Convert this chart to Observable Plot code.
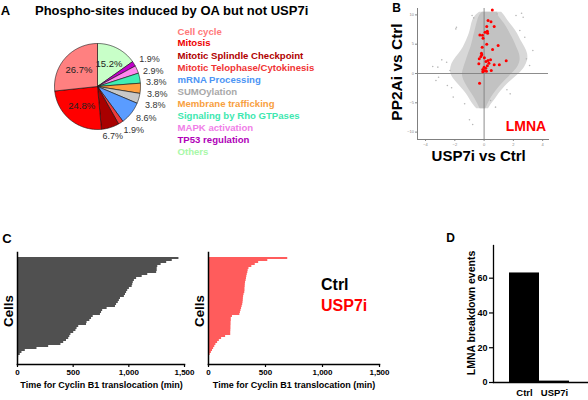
<!DOCTYPE html>
<html><head><meta charset="utf-8">
<script src="https://cdn.jsdelivr.net/npm/d3@7"></script>
<script src="https://cdn.jsdelivr.net/npm/@observablehq/plot@0.6"></script>
<style>
body{margin:0;background:#fff;}
#fig{position:relative;width:588px;height:400px;overflow:hidden;background:#fff;font-family:"Liberation Sans",Arial,Helvetica,sans-serif;}
#fig svg{position:absolute;overflow:visible;}
.t{position:absolute;font-weight:bold;white-space:nowrap;line-height:1;}
</style></head><body><div id="fig"></div>
<script>
// ---------- Panel A data ----------
const pieCategories = ["Cell cycle","Mitosis","Mitotic Splindle Checkpoint","Mitotic Telophase/Cytokinesis","mRNA Processing","SUMOylation","Membrane trafficking","Signaling by Rho GTPases","MAPK activation","TP53 regulation","Others"];
const piePercents = [26.7,24.8,6.7,1.9,8.6,3.8,3.8,3.8,2.9,1.9,15.2];
const pieColors = ["#ff8080","#ff0000","#a80000","#f03a3a","#5a9cff","#c8c8c8","#ffa040","#40eeb4","#ff88ee","#c000c8","#c8ffc8"];
const legendColors = ["#ff7878","#ee0000","#b00000","#f03434","#4c95f5","#a8a8a8","#f8a040","#3ee8b0","#f080e8","#b000b8","#a8f8a8"];

// ---------- Panel B data (USP7i vs Ctrl, PP2Ai vs Ctrl) ----------
const cloudY     = [10.45, 9.89, 9.03, 7.9, 6.76, 5.63, 4.49, 3.35, 2.22, 1.08, -0.06, -0.91, -1.76, -2.61, -3.47, -4.32, -5.17, -6.02];
const coreLeft   = [-0.11, -0.33, -0.44, -0.56, -0.67, -0.78, -0.89, -1.07, -1.22, -1.38, -1.51, -1.44, -1.27, -1.07, -0.84, -0.62, -0.44, -0.27];
const coreRight  = [0.93, 0.93, 1.22, 1.56, 1.78, 2.04, 2.22, 2.44, 2.49, 2.33, 1.89, 1.56, 1.22, 0.93, 0.67, 0.44, 0.27, 0.11];
const haloLeft   = [-0.3, -0.6, -0.8, -0.9, -1.0, -1.2, -1.4, -1.7, -2.1, -2.3, -2.3, -2.1, -1.8, -1.5, -1.2, -1.0, -0.8, -0.5];
const haloRight  = [1.2, 1.4, 1.6, 2.0, 2.3, 2.5, 2.8, 3.0, 3.0, 2.8, 2.4, 2.0, 1.6, 1.3, 1.0, 0.8, 0.5, 0.3];
const outlierX = [-1.89,-1.93,-0.82,-0.71,2.18,2.56,2.67,-2.89,-2.56,-3.16,-3.51,-3.29,-2.51,-2.22,-2.11,-1.33,-1.0,-0.78,3.33,3.11,2.89,1.78,1.56,0.78,0.44,-3.11,-2.33,2.78,2.44,0.89];
const outlierY = [7.90,7.61,9.89,9.49,9.89,10.28,9.60,2.33,1.93,1.08,1.19,-1.19,-2.05,-2.44,-4.03,-5.17,-7.9,-8.69,3.92,1.36,2.5,-3.47,-2.78,-5.74,-4.6,-0.63,0.51,6.19,7.33,10.17];
const lmnaX = [0.56,0.27,0.47,0.18,0.69,0.22,0.07,-0.29,-0.11,0.24,-0.07,0.18,0.96,-0.13,0.58,-0.18,-0.16,-0.22,-0.33,0.02,0.27,0.44,0.13,0.33,-0.36,1.51,1.04,0.69,0.22,0.0,0.11,-0.09,0.04,-0.09,0.16,0.49,-0.31];
const lmnaY = [10.85,9.03,8.81,8.01,8.01,7.22,7.05,6.59,6.53,6.88,6.02,5.0,4.77,4.49,4.09,3.47,3.18,2.9,2.5,2.67,2.22,2.33,2.05,1.76,1.65,2.16,1.48,1.48,1.31,1.08,0.91,0.68,0.45,0.28,0.4,0.51,-1.65];
const bXTicks = [-4,-2,0,2,4];
const bYTicks = [-10,-5,0,5,10];

// ---------- Panel C data (time for Cyclin B1 translocation, min) ----------
const ctrlTimes = [1450,1390,1340,1290,1260,1255,1255,1250,1170,1120,1070,1050,1040,1035,1030,1005,990,980,970,960,925,915,905,890,880,805,765,755,745,680,665,650,625,620,550,535,525,505,480,470,460,440,415,390,280,175,70,40,25,10];
const usp7iTimes = [695,520,440,410,380,355,348,345,340,336,333,330,325,323,322,320,320,318,312,308,306,305,303,300,295,290,285,280,275,210,200,200,198,198,197,197,196,195,195,150,115,95,80,65,55,45,35,25,15,8];
const cTicks = [0,500,1000,1500];

// ---------- Panel D data ----------
const dGroups = ["Ctrl","USP7i"];
const dEvents = [63,0.8];
const dTicks = [0,20,40,60];

const FONT = '"Liberation Sans", Arial, Helvetica, sans-serif';
const fig = document.getElementById("fig");
function place(svg, left, top){ svg.style.left = left+"px"; svg.style.top = top+"px"; fig.appendChild(svg); }
function txt(s, x, y, size, color, opts={}){
  const d = document.createElement("div");
  d.className = "t"; d.textContent = s;
  d.style.fontSize = size+"px"; d.style.color = color||"#000";
  d.style.left = x+"px"; d.style.top = y+"px";
  const ax = opts.anchor==="start" ? "0" : "-50%";
  d.style.transform = `translate(${ax},-50%)` + (opts.rot ? ` rotate(${opts.rot}deg)` : "");
  if (opts.weight) d.style.fontWeight = opts.weight;
  fig.appendChild(d);
}

// ---------- Pie (A) ----------
{
  const R = 43;
  const rows = pieCategories.map((c,i)=>({cat:c, pct:piePercents[i], color:pieColors[i]})).reverse();
  const arcs = d3.pie().sort(null).value(d=>d.pct).startAngle(0).endAngle(2*Math.PI)(rows);
  const pt = (a, r) => ({x: r*Math.sin(a), y: r*Math.cos(a)});
  const sliceMarks = arcs.map(a => {
    const pts = [{x:0,y:0}];
    const n = Math.max(2, Math.ceil((a.endAngle-a.startAngle)/0.02));
    for (let k=0;k<=n;k++) pts.push(pt(a.startAngle+(a.endAngle-a.startAngle)*k/n, R));
    pts.push({x:0,y:0});
    return Plot.line(pts, {x:"x", y:"y", fill:a.data.color, stroke:"#111", strokeWidth:0.6, strokeLinejoin:"round"});
  });
  // label layout: inside for big slices, outside (radial) otherwise, with minimal vertical spacing
  let prevY = Infinity;
  const labs = arcs.map(a => {
    const m = (a.startAngle+a.endAngle)/2;
    const inside = a.data.pct > 10;
    const p = pt(m, inside ? 0.58*R : 1.2*R);
    const kind = inside ? "in" : (Math.sin(m) > 0.5 ? "start" : "mid");
    if (kind === "start") { p.y = Math.min(p.y, prevY - 11.5); prevY = p.y; }
    return {...p, text: a.data.pct.toFixed(1)+"%", kind};
  });
  const svg = Plot.plot({
    width:176, height:140, margin:0,
    x:{domain:[-97,79], axis:null}, y:{domain:[-74,66], axis:null},
    style:{fontFamily:FONT, background:"transparent"},
    marks:[
      ...sliceMarks,
      Plot.text(labs.filter(d=>d.kind==="in"), {x:"x", y:"y", text:"text", fontSize:9.5, fill:"#222"}),
      Plot.text(labs.filter(d=>d.kind==="start"), {x:"x", y:"y", text:"text", fontSize:9, fill:"#333", textAnchor:"start", dx:-2}),
      Plot.text(labs.filter(d=>d.kind==="mid"), {x:"x", y:"y", text:"text", fontSize:9, fill:"#333"})
    ]
  });
  place(svg, 0, 20);
}

// ---------- Scatter (B) ----------
{
  const core = cloudY.map((y,i)=>({y, x1:coreLeft[i], x2:coreRight[i]}));
  const halo = cloudY.map((y,i)=>({y, x1:haloLeft[i], x2:haloRight[i]}));
  const outl = outlierX.map((x,i)=>({x, y:outlierY[i]}));
  const red = lmnaX.map((x,i)=>({x, y:lmnaY[i]}));
  const svg = Plot.plot({
    width:208, height:170, marginLeft:37, marginRight:40, marginTop:8, marginBottom:31,
    x:{domain:[-4.55,4.4]}, y:{domain:[-11.26,11.09]},
    style:{fontFamily:FONT, color:"#888", background:"transparent"},
    marks:[
      Plot.areaX(halo, {y:"y", x1:"x1", x2:"x2", fill:"#d8d8d8", curve:"basis"}),
      Plot.areaX(core, {y:"y", x1:"x1", x2:"x2", fill:"#c2c2c2", curve:"basis"}),
      Plot.dot(outl, {x:"x", y:"y", r:0.8, fill:"#b8b8b8"}),
      Plot.ruleX([0], {stroke:"#808080", strokeWidth:0.9}),
      Plot.ruleY([0], {stroke:"#808080", strokeWidth:0.9}),
      Plot.dot(red, {x:"x", y:"y", r:1.5, fill:"#ff0000"}),
      Plot.axisX({ticks:bXTicks, tickSize:2, tickPadding:1.5, fontSize:4, label:null, stroke:"#888"}),
      Plot.axisY({ticks:bYTicks, tickSize:2, tickPadding:1.5, fontSize:4, label:null, stroke:"#888"}),
      Plot.frame({anchor:"left", stroke:"#808080"}),
      Plot.frame({anchor:"bottom", stroke:"#808080"})
    ]
  });
  place(svg, 380, 0);
}

// ---------- Bars (C) ----------
function cPlot(values, color, width, ml, mr){
  return Plot.plot({
    width, height:160, marginLeft:ml, marginRight:mr, marginTop:12, marginBottom:36,
    x:{domain:[0,1500]},
    y:{type:"band", domain:d3.range(values.length), range:[12,122], paddingInner:0.22, paddingOuter:0, axis:null},
    style:{fontFamily:FONT, fontWeight:"bold", color:"#000", background:"transparent"},
    marks:[
      Plot.barX(values, {x:d=>d, y:(d,i)=>i, fill:color}),
      Plot.axisX({ticks:cTicks, tickSize:3, tickPadding:2, fontSize:8, label:null, strokeWidth:1.2}),
      Plot.frame({anchor:"left", strokeWidth:1.5}),
      Plot.frame({anchor:"bottom", strokeWidth:1.5})
    ]
  });
}
place(cPlot(ctrlTimes, "#505050", 195, 17, 11), 0, 240);
place(cPlot(usp7iTimes, "#ff5c5c", 200, 13, 16), 195, 240);

// ---------- Bars (D) ----------
{
  const rows = dGroups.map((g,i)=>({g, v:dEvents[i]}));
  const svg = Plot.plot({
    width:158, height:170, marginLeft:63, marginRight:0, marginTop:15, marginBottom:18,
    x:{type:"band", domain:dGroups, range:[78,139], padding:0},
    y:{domain:[0,78.8]},
    style:{fontFamily:FONT, fontWeight:"bold", color:"#000", background:"transparent"},
    marks:[
      Plot.barY(rows, {x:"g", y:"v", fill:"#000"}),
      Plot.axisY({ticks:dTicks, tickSize:4, tickPadding:2, fontSize:9, label:null, strokeWidth:1.2}),
      Plot.axisX({tickSize:0, tickPadding:7, fontSize:9.5, label:null}),
      Plot.frame({anchor:"left", strokeWidth:1.3}),
      Plot.frame({anchor:"bottom", strokeWidth:1.3})
    ]
  });
  place(svg, 430, 230);
}

// ---------- Texts ----------
txt("A", 5.5, 10, 13);
txt("Phospho-sites induced by OA but not USP7i", 35, 10, 13, "#000", {anchor:"start"});
const legY = [31.7,43.3,55.7,67.7,80,92.3,104.3,116,127.7,140,152];
pieCategories.forEach((c,i)=>txt(c, 177.5, legY[i], 9.6, legendColors[i], {anchor:"start"}));
txt("B", 396.7, 7.5, 12);
txt("PP2Ai vs Ctrl", 396.7, 71.7, 15.5, "#000", {rot:-90});
txt("USP7i vs Ctrl", 478.7, 155, 15);
txt("LMNA", 526, 126, 14, "#ff0000");
txt("C", 7, 238, 13);
txt("Cells", 9, 310.7, 13.3, "#000", {rot:-90});
txt("Cells", 200, 310.7, 13.3, "#000", {rot:-90});
txt("Time for Cyclin B1 translocation (min)", 101.5, 385, 9);
txt("Time for Cyclin B1 translocation (min)", 294, 385, 9);
txt("Ctrl", 321, 285, 16, "#000", {anchor:"start"});
txt("USP7i", 321, 306, 16, "#ff0000", {anchor:"start"});
txt("D", 450.5, 238, 12);
txt("LMNA breakdown events", 470.5, 313, 10.5, "#000", {rot:-90});
</script></body></html>
